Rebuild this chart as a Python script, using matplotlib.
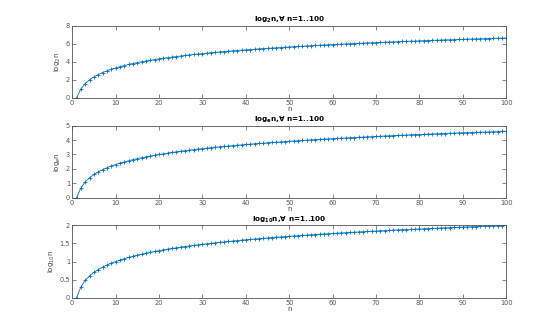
import matplotlib
matplotlib.use('Agg')
import matplotlib.pyplot as plt

n = list(range(1, 101))

log2_n = [
    0.00, 1.00, 1.58, 2.00, 2.32, 2.58, 2.81, 3.00, 3.17, 3.32,
    3.46, 3.58, 3.70, 3.81, 3.91, 4.00, 4.09, 4.17, 4.25, 4.32,
    4.39, 4.46, 4.52, 4.58, 4.64, 4.70, 4.75, 4.81, 4.86, 4.91,
    4.95, 5.00, 5.04, 5.09, 5.13, 5.17, 5.21, 5.25, 5.29, 5.32,
    5.36, 5.39, 5.43, 5.46, 5.49, 5.52, 5.55, 5.58, 5.61, 5.64,
    5.67, 5.70, 5.73, 5.75, 5.78, 5.81, 5.83, 5.86, 5.88, 5.91,
    5.93, 5.95, 5.98, 6.00, 6.02, 6.04, 6.07, 6.09, 6.11, 6.13,
    6.15, 6.17, 6.19, 6.21, 6.23, 6.25, 6.27, 6.29, 6.30, 6.32,
    6.34, 6.36, 6.38, 6.39, 6.41, 6.43, 6.44, 6.46, 6.48, 6.49,
    6.51, 6.52, 6.54, 6.55, 6.57, 6.58, 6.60, 6.61, 6.63, 6.64]

ln_n = [
    0.00, 0.69, 1.10, 1.39, 1.61, 1.79, 1.95, 2.08, 2.20, 2.30,
    2.40, 2.48, 2.56, 2.64, 2.71, 2.77, 2.83, 2.89, 2.94, 3.00,
    3.04, 3.09, 3.14, 3.18, 3.22, 3.26, 3.30, 3.33, 3.37, 3.40,
    3.43, 3.47, 3.50, 3.53, 3.56, 3.58, 3.61, 3.64, 3.66, 3.69,
    3.71, 3.74, 3.76, 3.78, 3.81, 3.83, 3.85, 3.87, 3.89, 3.91,
    3.93, 3.95, 3.97, 3.99, 4.01, 4.03, 4.04, 4.06, 4.08, 4.09,
    4.11, 4.13, 4.14, 4.16, 4.17, 4.19, 4.20, 4.22, 4.23, 4.25,
    4.26, 4.28, 4.29, 4.30, 4.32, 4.33, 4.34, 4.36, 4.37, 4.38,
    4.39, 4.41, 4.42, 4.43, 4.44, 4.45, 4.47, 4.48, 4.49, 4.50,
    4.51, 4.52, 4.53, 4.54, 4.55, 4.56, 4.57, 4.58, 4.60, 4.61]

log10_n = [
    0.000, 0.301, 0.477, 0.602, 0.699, 0.778, 0.845, 0.903, 0.954, 1.000,
    1.041, 1.079, 1.114, 1.146, 1.176, 1.204, 1.230, 1.255, 1.279, 1.301,
    1.322, 1.342, 1.362, 1.380, 1.398, 1.415, 1.431, 1.447, 1.462, 1.477,
    1.491, 1.505, 1.519, 1.531, 1.544, 1.556, 1.568, 1.580, 1.591, 1.602,
    1.613, 1.623, 1.633, 1.643, 1.653, 1.663, 1.672, 1.681, 1.690, 1.699,
    1.708, 1.716, 1.724, 1.732, 1.740, 1.748, 1.756, 1.763, 1.771, 1.778,
    1.785, 1.792, 1.799, 1.806, 1.813, 1.820, 1.826, 1.833, 1.839, 1.845,
    1.851, 1.857, 1.863, 1.869, 1.875, 1.881, 1.886, 1.892, 1.898, 1.903,
    1.908, 1.914, 1.919, 1.924, 1.929, 1.934, 1.940, 1.944, 1.949, 1.954,
    1.959, 1.964, 1.968, 1.973, 1.978, 1.982, 1.987, 1.991, 1.996, 2.000]

series = [log2_n, ln_n, log10_n]
titles = [r'log$_\mathbf{2}$n,∀ n=1..100',
          r'log$_\mathbf{e}$n,∀ n=1..100',
          r'log$_\mathbf{10}$n,∀ n=1..100']
ylabels = [r'log$_2$n', r'log$_e$n', r'log$_{10}$n']
ylims = [(0, 8), (0, 5), (0, 2)]
yticks = [[0, 2, 4, 6, 8], [0, 1, 2, 3, 4, 5], [0, 0.5, 1, 1.5, 2]]
yticklabels = [['0', '2', '4', '6', '8'], ['0', '1', '2', '3', '4', '5'],
               ['0', '0.5', '1', '1.5', '2']]

axcol = '#555555'
fig = plt.figure(figsize=(5.6, 3.34), dpi=100)
bottoms = [0.707, 0.408, 0.109]
for i in range(3):
    ax = fig.add_axes([0.129, bottoms[i], 0.775, 0.216])
    ax.plot(n, series[i], color='#0072BD', linewidth=0.6, marker='+',
            markersize=3, markeredgewidth=0.6)
    ax.set_xlim(0, 100)
    ax.set_ylim(*ylims[i])
    ax.set_xticks(range(0, 101, 10))
    ax.set_yticks(yticks[i])
    ax.set_yticklabels(yticklabels[i])
    ax.tick_params(direction='in', top=True, right=True, labelsize=4.8,
                   length=3, width=0.5, colors=axcol, pad=1.5)
    for s in ax.spines.values():
        s.set_color(axcol)
        s.set_linewidth(0.6)
    ax.set_title(titles[i], fontsize=5.2, fontweight='bold', pad=2.5)
    ax.set_xlabel('n', fontsize=5, color='#444444', labelpad=0)
    ax.set_ylabel(ylabels[i], fontsize=5, color='#444444', labelpad=2)

fig.savefig('out.png', dpi=100)
